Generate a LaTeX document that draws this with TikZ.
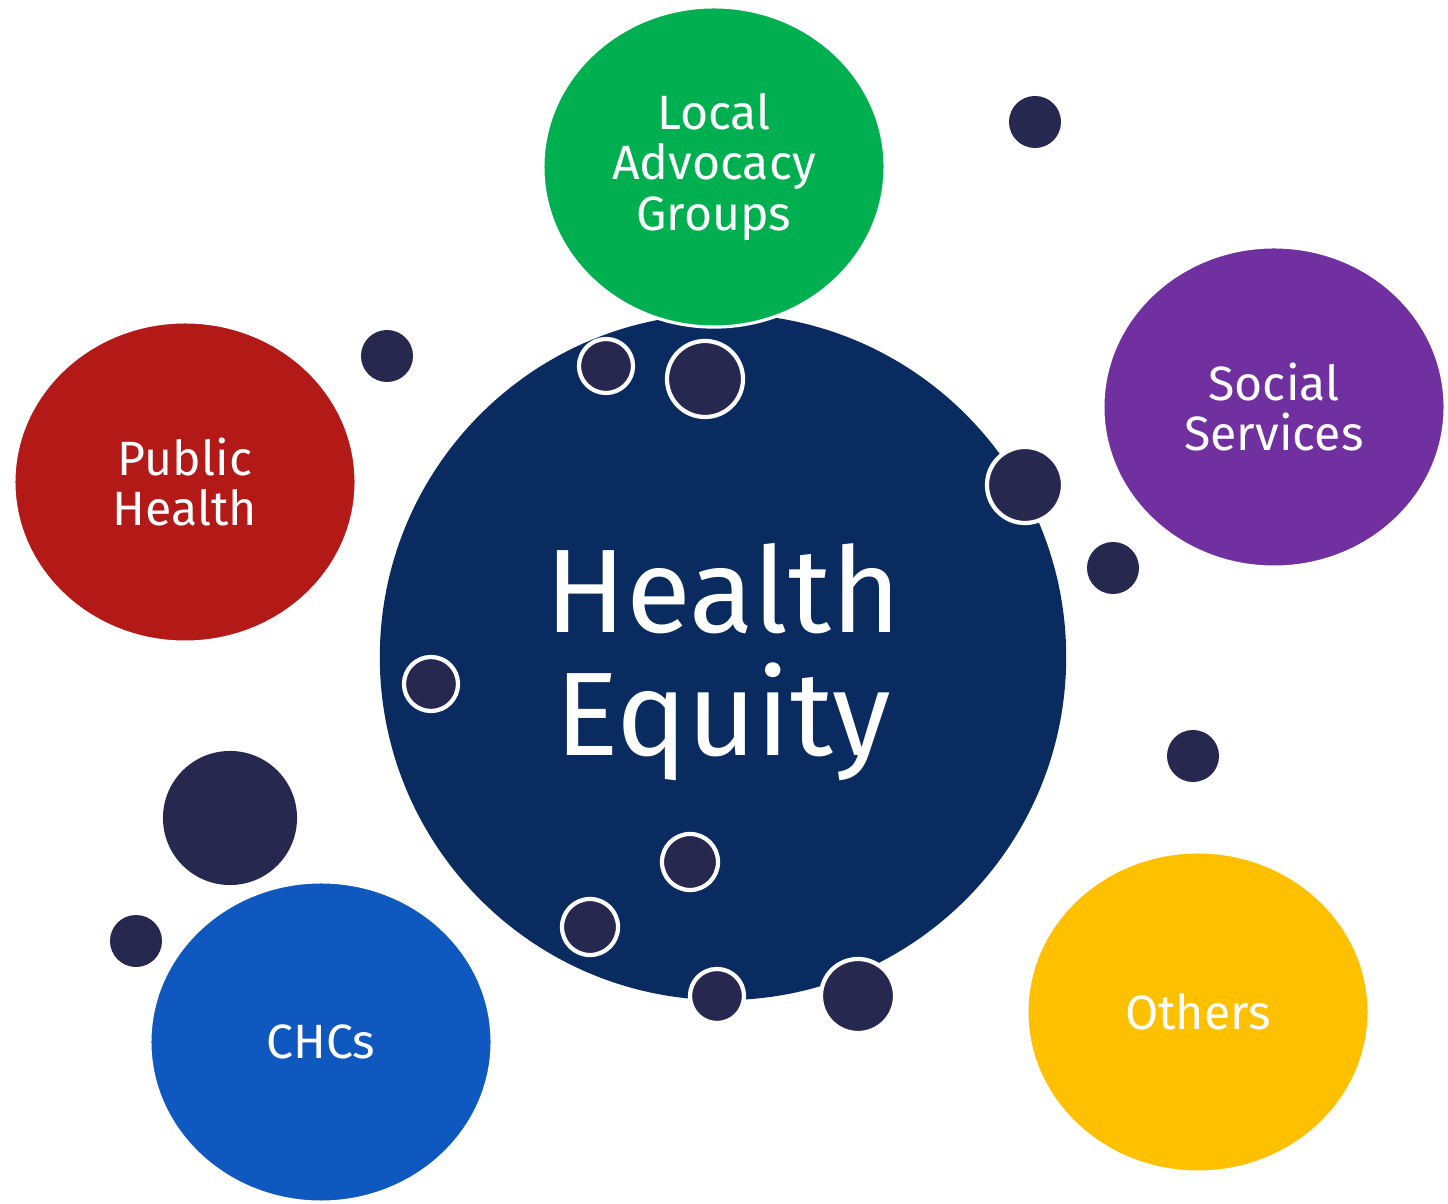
\documentclass[tikz,border=0pt]{standalone}
\usepackage{fontspec}
\setmainfont{Fira Sans}
\usetikzlibrary{shapes.geometric}
\definecolor{equityblue}{HTML}{0A2B60}
\definecolor{dotnavy}{HTML}{27284F}
\definecolor{groupgreen}{HTML}{00B050}
\definecolor{socialpurple}{HTML}{7030A0}
\definecolor{publicred}{HTML}{B31917}
\definecolor{chcblue}{HTML}{0F58C0}
\definecolor{othersyellow}{HTML}{FFC000}
\begin{document}
\begin{tikzpicture}[x=0.01cm, y=-0.01cm,
		bubble/.style={ellipse, draw=white, line width=0.9pt, text=white, align=center,
			minimum width=3.42cm, minimum height=3.2cm, inner sep=0pt,
			font=\fontsize{13.7}{14.3}\selectfont},
		dot/.style={circle, fill=dotnavy, inner sep=0pt},
		ringdot/.style={dot, draw=white, line width=1.2pt}]
		\useasboundingbox (0,0) rectangle (1448,1204);
		% centre
		\node(equity)[circle, fill=equityblue, minimum size=6.86cm, inner sep=0pt] at (723,657) {};
		\node(equitytext)[text=white, align=center, font=\fontsize{33.8}{35}\selectfont]
			at (723,662) {Health\\Equity};
		% partners
		\node(local)[bubble, fill=groupgreen] at (714,167) {Local\\Advocacy\\Groups};
		\node(social)[bubble, fill=socialpurple] at (1274,407) {Social\\Services};
		\node(public)[bubble, fill=publicred] at (185,482) {Public\\Health};
		\node(chcs)[bubble, fill=chcblue] at (321,1042) {CHCs};
		\node(others)[bubble, fill=othersyellow] at (1198,1012) {Others};
		% loose dots
		\node(d1)[dot, minimum size=0.52cm] at (1035,122) {};
		\node(d2)[dot, minimum size=0.52cm] at (387,356) {};
		\node(d3)[dot, minimum size=0.52cm] at (1113,568) {};
		\node(d4)[dot, minimum size=0.52cm] at (1193,756) {};
		\node(d5)[dot, minimum size=0.52cm] at (136,941) {};
		\node(d6)[dot, minimum size=1.34cm] at (230,818) {};
		% dots on the rim
		\node(r1)[ringdot, minimum size=0.54cm] at (606,366) {};
		\node(r2)[ringdot, minimum size=0.76cm] at (705,379) {};
		\node(r3)[ringdot, minimum size=0.76cm] at (1025,485) {};
		\node(r4)[ringdot, minimum size=0.54cm] at (431,684) {};
		\node(r5)[ringdot, minimum size=0.56cm] at (690,862) {};
		\node(r6)[ringdot, minimum size=0.56cm] at (590,927) {};
		\node(r7)[ringdot, minimum size=0.54cm] at (717,996) {};
		\node(r8)[ringdot, minimum size=0.74cm] at (858,996) {};
	\end{tikzpicture}
\end{document}
